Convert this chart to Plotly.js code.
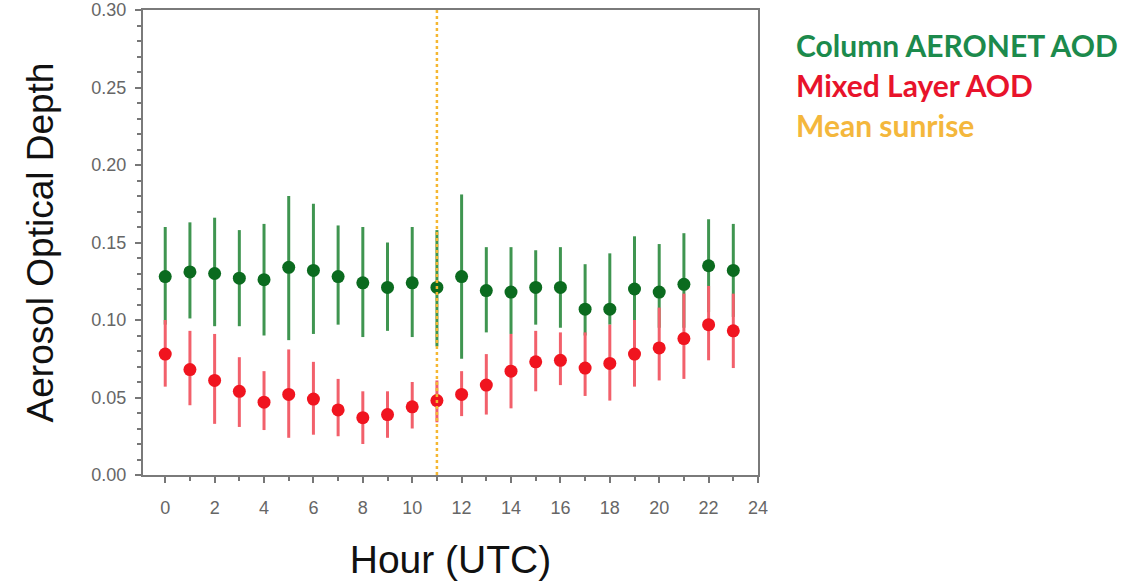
<!DOCTYPE html>
<html><head><meta charset="utf-8">
<script src="https://cdn.plot.ly/plotly-3.0.1.min.js"></script>
<style>html,body{margin:0;padding:0;background:#fff}#chart{width:1138px;height:587px}</style>
</head><body><div id="chart"></div>
<script>
const hours = [0,1,2,3,4,5,6,7,8,9,10,11,12,13,14,15,16,17,18,19,20,21,22,23];
const columnMean  = [0.128,0.131,0.130,0.127,0.126,0.134,0.132,0.128,0.124,0.121,0.124,0.121,0.128,0.119,0.118,0.121,0.121,0.107,0.107,0.120,0.118,0.123,0.135,0.132];
const columnUpper = [0.160,0.163,0.166,0.158,0.162,0.180,0.175,0.161,0.160,0.150,0.160,0.158,0.181,0.147,0.147,0.145,0.147,0.136,0.143,0.154,0.149,0.156,0.165,0.162];
const columnLower = [0.097,0.101,0.096,0.096,0.090,0.087,0.091,0.097,0.089,0.093,0.089,0.083,0.075,0.092,0.091,0.097,0.095,0.090,0.097,0.100,0.095,0.095,0.105,0.102];
const mixedMean   = [0.078,0.068,0.061,0.054,0.047,0.052,0.049,0.042,0.037,0.039,0.044,0.048,0.052,0.058,0.067,0.073,0.074,0.069,0.072,0.078,0.082,0.088,0.097,0.093];
const mixedUpper  = [0.100,0.093,0.091,0.076,0.067,0.081,0.073,0.062,0.054,0.054,0.060,0.061,0.067,0.078,0.091,0.093,0.092,0.092,0.097,0.100,0.108,0.117,0.122,0.117];
const mixedLower  = [0.057,0.045,0.033,0.031,0.029,0.024,0.026,0.025,0.020,0.024,0.030,0.034,0.038,0.039,0.043,0.054,0.058,0.051,0.048,0.057,0.061,0.062,0.074,0.069];
const sunriseHour = 11;
const legendLabels = ["Column AERONET AOD","Mixed Layer AOD","Mean sunrise"];

function diff(a,b){return a.map((v,i)=>+(v-b[i]).toFixed(4));}

const traces = [
  {x:hours, y:columnMean, type:'scatter', mode:'markers', name:legendLabels[0],
   marker:{color:'#0b6b1f', size:13},
   error_y:{type:'data', symmetric:false, array:diff(columnUpper,columnMean), arrayminus:diff(columnMean,columnLower),
            color:'#3f9550', thickness:3, width:0}},
  {x:hours, y:mixedMean, type:'scatter', mode:'markers', name:legendLabels[1],
   marker:{color:'#f0141f', size:13},
   error_y:{type:'data', symmetric:false, array:diff(mixedUpper,mixedMean), arrayminus:diff(mixedMean,mixedLower),
            color:'#f2606b', thickness:3, width:0}}
];

const layout = {
  width:1138, height:587,
  margin:{l:143, r:380, t:10, b:112},
  paper_bgcolor:'#fff', plot_bgcolor:'#fff',
  showlegend:false,
  font:{family:'Liberation Sans, Arial, sans-serif'},
  xaxis:{range:[-0.9,24], tickvals:[0,2,4,6,8,10,12,14,16,18,20,22,24], ticks:'outside', ticklen:6, tickwidth:2, tickcolor:'#777',
         minor:{dtick:1, tick0:0, ticks:'outside', ticklen:4, tickwidth:2, tickcolor:'#777', showgrid:false},
         showline:true, linecolor:'#7a7a7a', linewidth:2, mirror:true, showgrid:false, zeroline:false,
         tickfont:{size:18, color:'#666'}, ticklabelstandoff:9,
         title:{text:'Hour (UTC)', font:{size:39, color:'#111'}, standoff:29}},
  yaxis:{range:[0,0.30], tickvals:[0,0.05,0.10,0.15,0.20,0.25,0.30], tickformat:'.2f', ticks:'outside', ticklen:6, tickwidth:2, tickcolor:'#777',
         minor:{dtick:0.01, tick0:0, ticks:'outside', ticklen:4, tickwidth:2, tickcolor:'#777', showgrid:false},
         showline:true, linecolor:'#7a7a7a', linewidth:2, mirror:true, showgrid:false, zeroline:false,
         tickfont:{size:18, color:'#666'}, ticklabelstandoff:5,
         title:{text:'Aerosol Optical Depth', font:{size:37, color:'#111'}, standoff:26}},
  shapes:[{type:'line', xref:'x', yref:'paper', x0:sunriseHour, x1:sunriseHour, y0:0, y1:1,
           line:{color:'#f5b731', width:2.5, dash:'dot'}, layer:'above'}],
  annotations:[
    {text:'<b>'+legendLabels[0]+'</b>', xref:'paper', yref:'paper', x:1.059, y:0.925, xanchor:'left', yanchor:'middle', showarrow:false, font:{family:'Lato, Open Sans, sans-serif', size:30, color:'#1c8a4c'}},
    {text:'<b>'+legendLabels[1]+'</b>', xref:'paper', yref:'paper', x:1.059, y:0.839, xanchor:'left', yanchor:'middle', showarrow:false, font:{family:'Lato, Open Sans, sans-serif', size:30, color:'#e8132b'}},
    {text:'<b>'+legendLabels[2]+'</b>', xref:'paper', yref:'paper', x:1.059, y:0.753, xanchor:'left', yanchor:'middle', showarrow:false, font:{family:'Lato, Open Sans, sans-serif', size:30, color:'#f4b73c'}}
  ]
};
Plotly.newPlot('chart', traces, layout, {displayModeBar:false, staticPlot:true});
</script></body></html>
